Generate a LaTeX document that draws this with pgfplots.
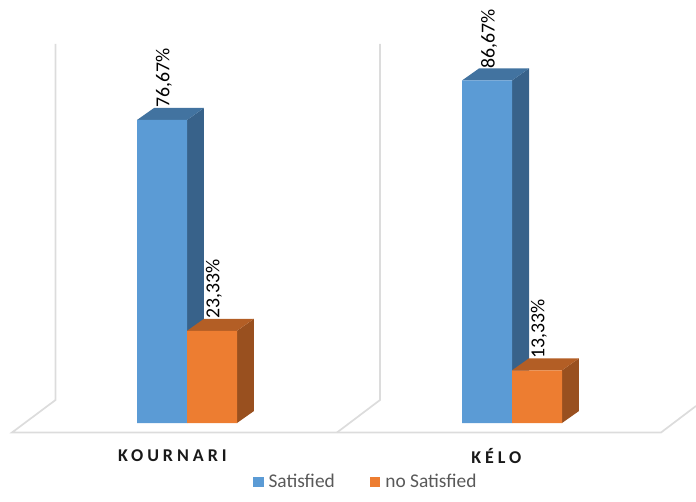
\documentclass[border=0pt]{standalone}
\usepackage{fontspec}
\setmainfont{Carlito}
\usepackage{pgfplots}
\pgfplotsset{compat=1.18}
\definecolor{blueFront}{HTML}{5B9BD5}
\definecolor{blueTop}{HTML}{4273A0}
\definecolor{blueSide}{HTML}{38628A}
\definecolor{orangeFront}{HTML}{ED7D31}
\definecolor{orangeTop}{HTML}{B35E25}
\definecolor{orangeSide}{HTML}{99501F}
\definecolor{wall}{HTML}{DCDCDC}
\pgfplotsset{
  face/.style={fill=#1, draw=none, forget plot},
  wallline/.style={draw=wall, line width=1.7pt, line join=miter, forget plot, no markers},
  valuelabels/.style={
    point meta=explicit symbolic,
    nodes near coords,
    every node near coord/.style={xshift=#1, yshift=12pt, rotate=90, anchor=west, inner sep=0pt,
      font=\fontsize{19.8}{20}\selectfont, text=black},
  },
}
\begin{document}
\begin{tikzpicture}[x=1pt,y=1pt]
\useasboundingbox (0,-68.5) rectangle (696,432.5);
\begin{axis}[
  at={(0,0)}, anchor=south west,
  scale only axis, width=696pt, height=432.5pt,
  xmin=-0.57538, xmax=1.56615,
  ymin=-2.4, ymax=107.03,
  clip=false,
  axis line style={draw=none},
  ymajorticks=false,
  xtick={-0.045,0.952},
  xticklabels={KOURNARI,KÉLO},
  major tick length=0pt,
  xticklabel style={
    font=\fontsize{18}{18}\selectfont\bfseries\addfontfeatures{LetterSpace=22},
    text=black!90, anchor=center, yshift=-23.5pt},
  legend columns=2,
  legend style={
    at={(253pt,-49.5pt)}, anchor=west, draw=none, fill=none, inner sep=0pt, outer sep=0pt,
    font=\fontsize{19.4}{20}\selectfont, text=black!65,
    /tikz/every even column/.append style={column sep=33pt},
  },
]
% back walls and floor outline
\addplot[wallline] coordinates {(-0.4046,95.9) (-0.4046,5.82) (-0.5385,-2.4) (1.4585,-2.4) (1.566,4.3)};
\addplot[wallline] coordinates {(0.5938,95.9) (0.5938,5.82) (0.4615,-2.4)};

% Satisfied: side and top faces
\addplot[face=blueSide] coordinates {(0,0) (0.0523,3.04) (0.0523,79.71) (0,76.67)} -- cycle;
\addplot[face=blueTop] coordinates {(-0.1538,76.67) (-0.1015,79.71) (0.0523,79.71) (0,76.67)} -- cycle;
\addplot[face=blueSide] coordinates {(1,0) (1.0523,3.04) (1.0523,89.71) (1,86.67)} -- cycle;
\addplot[face=blueTop] coordinates {(0.8462,86.67) (0.8985,89.71) (1.0523,89.71) (1,86.67)} -- cycle;
% Satisfied: front faces
\addplot[ybar, bar width=50pt, bar shift=-25pt, fill=blueFront, draw=none, valuelabels=-23pt,
  legend image code/.code={\fill[blueFront] (0pt,-5pt) rectangle (10.5pt,5.5pt); \path (13.5pt,0pt);}]
  coordinates {(0,76.67)[76,67\%] (1,86.67)[86,67\%]};
\addlegendentry{Satisfied}

% no Satisfied: side and top faces
\addplot[face=orangeSide] coordinates {(0.1538,0) (0.2061,3.04) (0.2061,26.37) (0.1538,23.33)} -- cycle;
\addplot[face=orangeTop] coordinates {(0,23.33) (0.0523,26.37) (0.2061,26.37) (0.1538,23.33)} -- cycle;
\addplot[face=orangeSide] coordinates {(1.1538,0) (1.2061,3.04) (1.2061,16.37) (1.1538,13.33)} -- cycle;
\addplot[face=orangeTop] coordinates {(1,13.33) (1.0523,16.37) (1.2061,16.37) (1.1538,13.33)} -- cycle;
% no Satisfied: front faces
\addplot[ybar, bar width=50pt, bar shift=25pt, fill=orangeFront, draw=none, valuelabels=27pt,
  legend image code/.code={\fill[orangeFront] (0pt,-5pt) rectangle (10.5pt,5.5pt); \path (13.5pt,0pt);}]
  coordinates {(0,23.33)[23,33\%] (1,13.33)[13,33\%]};
\addlegendentry{no Satisfied}
\end{axis}
\end{tikzpicture}
\end{document}
